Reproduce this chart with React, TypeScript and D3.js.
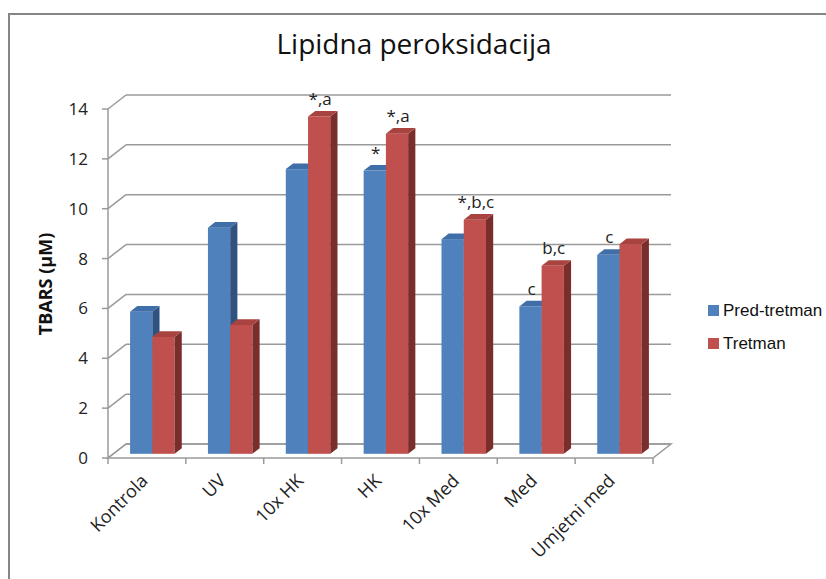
import React from "react";
import * as d3 from "d3";

const categories = ["Kontrola", "UV", "10x HK", "HK", "10x Med", "Med", "Umjetni med"];
const preValues = [5.7, 9.07, 11.42, 11.36, 8.61, 5.91, 7.98];
const treatValues = [4.69, 5.17, 13.53, 12.84, 9.39, 7.54, 8.41];
const preLabels = ["", "", "", "*", "", "c", "c"];
const treatLabels = ["", "", "*,a", "*,a", "*,b,c", "b,c", ""];
const yTicks = [0, 2, 4, 6, 8, 10, 12, 14];
const seriesNames = ["Pred-tretman", "Tretman"];

const W = 826;
const H = 579;
const left = 108;
const right = 653;
const bottom = 458;
const top = 109;
const DX = 18;
const DY = -14;
const F0 = 0.3;
const F1 = 0.7;

const colors = [
  { front: "#4F81BD", top: "#3F6EA8", side: "#2F5281" },
  { front: "#C0504D", top: "#A9433F", side: "#7A2E2C" },
];

const font = "'Open Sans', 'Noto Sans', sans-serif";

export default function App() {
  const x = d3.scaleBand<string>().domain(categories).range([left, right]).paddingInner(0).paddingOuter(0);
  const xs = d3.scaleBand<string>().domain(["pre", "treat"]).range([0, x.bandwidth()]).paddingInner(0).paddingOuter(0.75);
  const y = d3.scaleLinear().domain([0, 14]).range([bottom, top]);
  const w = xs.bandwidth();
  const fdx = DX * F0, fdy = DY * F0;
  const ddx = DX * (F1 - F0), ddy = DY * (F1 - F0);

  const bars: JSX.Element[] = [];
  const labels: JSX.Element[] = [];
  categories.forEach((c, i) => {
    [preValues[i], treatValues[i]].forEach((v, s) => {
      const key = s === 0 ? "pre" : "treat";
      const x1 = (x(c) as number) + (xs(key) as number) + fdx;
      const yt = y(v) + fdy;
      const yb = y(0) + fdy;
      const col = colors[s];
      bars.push(
        <g key={`${c}-${s}`}>
          <rect x={x1} y={yt} width={w} height={yb - yt} fill={col.front} />
          <polygon
            points={`${x1 + w},${yt} ${x1 + w + ddx},${yt + ddy} ${x1 + w + ddx},${yb + ddy} ${x1 + w},${yb}`}
            fill={col.side}
          />
          <polygon
            points={`${x1},${yt} ${x1 + w},${yt} ${x1 + w + ddx},${yt + ddy} ${x1 + ddx},${yt + ddy}`}
            fill={col.top}
          />
        </g>
      );
      const lab = s === 0 ? preLabels[i] : treatLabels[i];
      if (lab) {
        labels.push(
          <text
            key={`l-${c}-${s}`}
            x={x1 + w / 2 + 1}
            y={yt + ddy - 6}
            textAnchor="middle"
            fontFamily={font}
            fontSize={17}
            fill="#222"
          >
            {lab}
          </text>
        );
      }
    });
  });

  const grid = "#9A9A9A";

  return (
    <svg width={W} height={H} style={{ position: "absolute", left: 0, top: 0 }}>
      <rect x={0} y={0} width={W} height={H} fill="#fff" />
      <path d={`M9,${H + 5} V14 H${W + 5}`} fill="none" stroke="#868686" strokeWidth={2} />
      <text x={414} y={54} textAnchor="middle" fontFamily={font} fontSize={28} fill="#111">
        Lipidna peroksidacija
      </text>
      {yTicks.map((t) => (
        <g key={`g${t}`}>
          <line x1={left + DX} x2={right + DX} y1={y(t) + DY} y2={y(t) + DY} stroke={grid} strokeWidth={1.5} />
          <line x1={left} x2={left + DX} y1={y(t)} y2={y(t) + DY} stroke={grid} strokeWidth={1.5} />
          <line x1={left - 6} x2={left} y1={y(t)} y2={y(t)} stroke={grid} strokeWidth={1.5} />
          <text x={88} y={y(t)} dy="0.35em" textAnchor="end" fontFamily={font} fontSize={17} fill="#222">
            {t}
          </text>
        </g>
      ))}
      <polygon
        points={`${left},${bottom} ${right},${bottom} ${right + DX},${bottom + DY} ${left + DX},${bottom + DY}`}
        fill="none"
        stroke={grid}
        strokeWidth={1.5}
      />
      <line x1={left} x2={left} y1={top} y2={bottom} stroke={grid} strokeWidth={1.5} />
      {d3.range(categories.length + 1).map((k) => {
        const xx = left + k * x.step();
        return <line key={`t${k}`} x1={xx} x2={xx} y1={bottom} y2={bottom + 6} stroke={grid} strokeWidth={1.5} />;
      })}
      {bars}
      {labels}
      {categories.map((c) => {
        const cx = (x(c) as number) + x.bandwidth() / 2;
        return (
          <text
            key={`c-${c}`}
            transform={`translate(${cx + 2},${bottom + 24}) rotate(-45)`}
            textAnchor="end"
            fontFamily={font}
            fontSize={18}
            fill="#222"
          >
            {c}
          </text>
        );
      })}
      <text
        transform="translate(52,284) rotate(-90)"
        textAnchor="middle"
        fontFamily={font}
        fontSize={18}
        fontWeight="bold"
        fill="#111"
      >
        TBARS (µM)
      </text>
      {seriesNames.map((n, s) => (
        <g key={n}>
          <rect x={708} y={305 + s * 33} width={11} height={11} fill={colors[s].front} />
          <text x={723} y={316 + s * 33} fontFamily="'Liberation Sans', Arial, sans-serif" fontSize={17} fill="#111">
            {n}
          </text>
        </g>
      ))}
    </svg>
  );
}
